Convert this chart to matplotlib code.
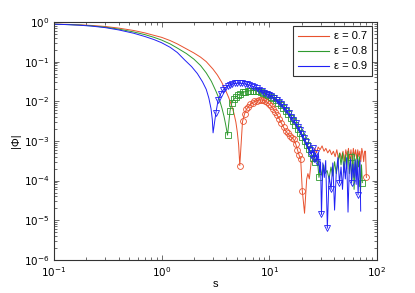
import numpy as np
import matplotlib
matplotlib.use("Agg")
import matplotlib.pyplot as plt
from matplotlib.lines import Line2D
from matplotlib.ticker import FixedLocator, NullFormatter

plt.rcParams["font.family"] = ["Liberation Sans", "DejaVu Sans"]

labels = ["\u03b5 = 0.7", "\u03b5 = 0.8", "\u03b5 = 0.9"]
colors = ["#e8512e", "#2f9a2f", "#2020f5"]
markers = ["o", "s", "v"]
x_decades = [-1, 0, 1, 2]
y_decades = [-6, -5, -4, -3, -2, -1, 0]

# eps = 0.7 : smooth part (line only), hump (all marked), noisy tail
red_smooth_s = [0.1, 0.13, 0.17, 0.22, 0.3, 0.4, 0.55, 0.7, 0.85, 1.0, 1.2, 1.4, 1.7,
                2.0, 2.3, 2.6, 3.0, 3.3, 3.6, 3.9, 4.2, 4.5, 4.7, 4.9, 5.05, 5.2]
red_smooth_v = [0.88, 0.87, 0.85, 0.82, 0.77, 0.70, 0.61, 0.53, 0.46, 0.41, 0.34, 0.28, 0.21,
                0.165, 0.13, 0.10, 0.065, 0.046, 0.031, 0.02, 0.0125, 0.0075, 0.005, 0.003, 0.0017, 0.0008]
red_hump_s = [5.33, 5.65, 5.9, 6.15, 6.4, 6.7, 7.0, 7.3, 7.65, 8.0, 8.4, 8.8, 9.2, 9.6, 10.0,
              10.4, 10.9, 11.4, 11.9, 12.4, 13.0, 13.6, 14.2, 14.8, 15.5, 16.2, 16.9, 17.6,
              18.3, 19.0, 19.6, 20.3]
red_hump_v = [2.4e-4, 3.1e-3, 4.8e-3, 6.3e-3, 7.3e-3, 8.3e-3, 9.2e-3, 9.9e-3, 1.04e-2, 1.07e-2,
              1.08e-2, 1.06e-2, 1.01e-2, 9.4e-3, 8.6e-3, 7.6e-3, 6.5e-3, 5.4e-3, 4.4e-3, 3.6e-3,
              2.8e-3, 2.2e-3, 1.8e-3, 1.55e-3, 1.35e-3, 1.2e-3, 1.1e-3, 8.5e-4, 6e-4, 4.3e-4,
              3.6e-4, 5.6e-5]
red_tail_s = [21.3, 22.3, 22.9, 23.6, 24.5, 25.5, 26.5, 27.5, 28.5, 29.7, 31, 32.3, 33.6, 35,
              36.5, 38, 39.5, 41, 42.5, 44, 45.5, 47, 48.5, 50, 51.5, 53, 54.5, 56, 57.5, 59,
              60.5, 62, 63.5, 65, 66.5, 68, 69.5, 71, 72.5, 74, 75.5, 77, 78.5, 80]
red_tail_v = [1.5e-5, 1.1e-4, 1.5e-4, 1.1e-4, 2.8e-4, 3.5e-4, 6.5e-4, 5e-4, 7e-4, 6e-4, 7.5e-4,
              5.5e-4, 6.5e-4, 5e-4, 6e-4, 4.5e-4, 5.5e-4, 4e-4, 6e-4, 3.5e-4, 5e-4, 3.5e-4,
              5.5e-4, 3e-4, 6e-4, 4e-4, 6.5e-4, 3.5e-4, 6e-4, 3e-4, 6.5e-4, 4e-4, 6e-4, 3.5e-4,
              6e-4, 4e-4, 5.5e-4, 3e-4, 6.5e-4, 5e-4, 3e-4, 5.5e-4, 5.5e-4, 1.2e-4]
red_tail_marked = [43]

# eps = 0.8
green_smooth_s = [0.1, 0.13, 0.17, 0.22, 0.3, 0.4, 0.55, 0.7, 0.85, 1.0, 1.2, 1.4, 1.7,
                  2.0, 2.3, 2.6, 2.9, 3.2, 3.45, 3.65, 3.8, 3.95]
green_smooth_v = [0.88, 0.86, 0.84, 0.80, 0.74, 0.66, 0.56, 0.48, 0.41, 0.35, 0.28, 0.22, 0.16,
                  0.115, 0.08, 0.052, 0.032, 0.018, 0.011, 0.0065, 0.0042, 0.0025]
green_hump_s = [4.1, 4.33, 4.5, 4.7, 4.9, 5.15, 5.4, 5.7, 6.0, 6.35, 6.7, 7.1, 7.5, 7.9, 8.35,
                8.8, 9.3, 9.8, 10.35, 10.9, 11.5, 12.1, 12.8, 13.5, 14.2, 15.0, 15.8, 16.6,
                17.5, 18.4, 19.3, 20.3, 21.3, 22.3, 23.4, 24.5, 25.5]
green_hump_v = [1.4e-3, 5.8e-3, 9.3e-3, 1.12e-2, 1.28e-2, 1.44e-2, 1.57e-2, 1.68e-2, 1.76e-2,
                1.82e-2, 1.86e-2, 1.87e-2, 1.85e-2, 1.8e-2, 1.73e-2, 1.64e-2, 1.54e-2, 1.43e-2,
                1.31e-2, 1.19e-2, 1.06e-2, 9.3e-3, 8.0e-3, 6.8e-3, 5.7e-3, 4.7e-3, 3.8e-3,
                3.1e-3, 2.5e-3, 2.0e-3, 1.6e-3, 1.25e-3, 1.0e-3, 8e-4, 6.3e-4, 5e-4, 3.8e-4]
green_tail_s = [26.5, 27.5, 28.3, 29, 30, 31, 32, 33, 34.5, 36, 37.5, 39, 40.5, 42, 43.5, 45,
                46.5, 48, 49.5, 51, 52.5, 54, 55.5, 57, 58.5, 60, 61.5, 63, 64.5, 66, 67.5, 69,
                70.5, 72, 73.4]
green_tail_v = [3e-4, 4e-4, 2.5e-4, 1.2e-4, 2e-4, 1.3e-4, 2.5e-4, 1.5e-4, 1.8e-4, 1.1e-4, 2.2e-4,
                1.3e-4, 3e-4, 1.5e-4, 2.8e-4, 4.9e-4, 2.5e-4, 5e-4, 1.6e-4, 4.5e-4, 2e-4, 5.5e-4,
                1.5e-4, 4e-4, 1e-4, 5e-4, 6e-5, 3.5e-4, 1.3e-4, 4.5e-4, 2.2e-4, 4e-4, 5e-5,
                2.5e-4, 8.9e-5]
green_tail_marked = [0, 3, 23, 34]

# eps = 0.9
blue_smooth_s = [0.1, 0.13, 0.17, 0.22, 0.3, 0.4, 0.55, 0.7, 0.85, 1.0, 1.2, 1.4, 1.64,
                 1.9, 2.15, 2.4, 2.6, 2.75, 2.88, 2.96, 3.01]
blue_smooth_v = [0.88, 0.86, 0.83, 0.79, 0.72, 0.63, 0.52, 0.43, 0.36, 0.30, 0.23, 0.17, 0.11,
                 0.075, 0.05, 0.031, 0.02, 0.012, 0.0065, 0.0035, 0.0016]
blue_hump_s = [3.2, 3.36, 3.55, 3.73, 3.92, 4.12, 4.33, 4.55, 4.8, 5.05, 5.3, 5.6, 5.9, 6.2,
               6.55, 6.9, 7.3, 7.7, 8.1, 8.55, 9.0, 9.5, 10.0, 10.5, 11.1, 11.7, 12.3, 13.0,
               13.7, 14.4, 15.2, 16.0, 16.8, 17.6, 18.4, 19.2, 20.1, 21.0, 21.9, 22.8, 23.7]
blue_hump_v = [5.2e-3, 1.1e-2, 1.55e-2, 1.9e-2, 2.2e-2, 2.45e-2, 2.62e-2, 2.75e-2, 2.82e-2,
               2.85e-2, 2.85e-2, 2.82e-2, 2.75e-2, 2.66e-2, 2.55e-2, 2.42e-2, 2.28e-2, 2.12e-2,
               1.96e-2, 1.8e-2, 1.66e-2, 1.55e-2, 1.44e-2, 1.34e-2, 1.22e-2, 1.09e-2, 9.6e-3,
               8.3e-3, 7.1e-3, 6.0e-3, 5.0e-3, 4.1e-3, 3.4e-3, 2.8e-3, 2.3e-3, 1.9e-3, 1.5e-3,
               1.2e-3, 9.5e-4, 7.5e-4, 6e-4]
blue_tail_s = [24.6, 25.4, 26.2, 27, 27.8, 28.6, 29.4, 30.0, 30.6, 31.5, 32.5, 33.5, 34.7, 36.0,
               37.6, 39.0, 40.5, 42.0, 43.5, 45.0, 46.5, 48.0, 49.5, 51.0, 52.5, 54.0, 55.5,
               57.0, 58.3, 59.8, 61.3, 62.8, 64.3, 65.7, 67.0, 68.4, 69.7, 70.8]
blue_tail_v = [4.5e-4, 6.5e-4, 3.5e-4, 5e-4, 3e-4, 5e-4, 1.6e-4, 3e-4, 1.4e-5, 2.8e-4, 1.2e-4,
               3.2e-4, 6.3e-6, 1.3e-4, 6e-5, 2.8e-4, 1.8e-5, 1.6e-4, 3.8e-4, 8.6e-5, 2.2e-4, 6e-5,
               3e-4, 1.1e-4, 3.8e-4, 1.6e-5, 2e-4, 3.5e-4, 8.6e-5, 2.6e-4, 1.2e-4, 3.2e-4, 8e-5,
               3.4e-4, 4.4e-5, 2e-4, 3.2e-4, 1.7e-5]
blue_tail_marked = [0, 1, 2, 3, 4, 8, 12, 14, 19, 28, 34]

series = [
    (red_smooth_s, red_smooth_v, red_hump_s, red_hump_v, red_tail_s, red_tail_v, red_tail_marked),
    (green_smooth_s, green_smooth_v, green_hump_s, green_hump_v, green_tail_s, green_tail_v, green_tail_marked),
    (blue_smooth_s, blue_smooth_v, blue_hump_s, blue_hump_v, blue_tail_s, blue_tail_v, blue_tail_marked),
]

fig = plt.figure(figsize=(4.15, 2.93), dpi=100)
ax = fig.add_axes([0.130, 0.113, 0.778, 0.812])

for (ss, sv, hs, hv, ts, tv, tm), c, m in zip(series, colors, markers):
    s_all = np.array(ss + hs + ts)
    v_all = np.array(sv + hv + tv)
    ax.plot(s_all, v_all, color=c, lw=0.7)
    mark_s = hs + [ts[i] for i in tm]
    mark_v = hv + [tv[i] for i in tm]
    ax.plot(mark_s, mark_v, linestyle="none", marker=m, ms=4.2, mfc="none",
            mec=c, mew=0.6)

ax.set_xscale("log")
ax.set_yscale("log")
ax.set_xlim(0.1, 100)
ax.set_ylim(1e-6, 1)

# explicit ticks so nothing lands outside the axes
x_major = [10.0 ** d for d in x_decades]
y_major = [10.0 ** d for d in y_decades]
x_minor = [k * 10.0 ** d for d in x_decades[:-1] for k in range(2, 10)]
y_minor = [k * 10.0 ** d for d in y_decades[:-1] for k in range(2, 10)]
ax.set_xticks(x_major)
ax.set_xticklabels([r"$10^{%d}$" % d for d in x_decades])
ax.set_yticks(y_major)
ax.set_yticklabels([r"$10^{%d}$" % d for d in y_decades])
ax.xaxis.set_minor_locator(FixedLocator(x_minor))
ax.yaxis.set_minor_locator(FixedLocator(y_minor))
ax.xaxis.set_minor_formatter(NullFormatter())
ax.yaxis.set_minor_formatter(NullFormatter())
ax.tick_params(which="both", direction="in", top=True, right=True, labelsize=7.5,
               color="#333333", width=0.5)
ax.tick_params(which="major", length=3.5)
ax.tick_params(which="minor", length=2)
for sp in ax.spines.values():
    sp.set_linewidth(0.8)
    sp.set_color("#333333")

ax.set_xlabel("s", fontsize=8, labelpad=0)
ax.set_ylabel("|\u03a6|", fontsize=8, labelpad=2)

handles = [Line2D([], [], color=c, lw=0.8) for c in colors]
leg = ax.legend(handles, labels, loc="upper right", fontsize=8, frameon=True,
                fancybox=False, edgecolor="black", handlelength=2.8,
                borderaxespad=0.4, labelspacing=0.45, handletextpad=0.5,
                borderpad=0.45)
leg.get_frame().set_linewidth(0.8)

fig.savefig("out.png", dpi=100)
